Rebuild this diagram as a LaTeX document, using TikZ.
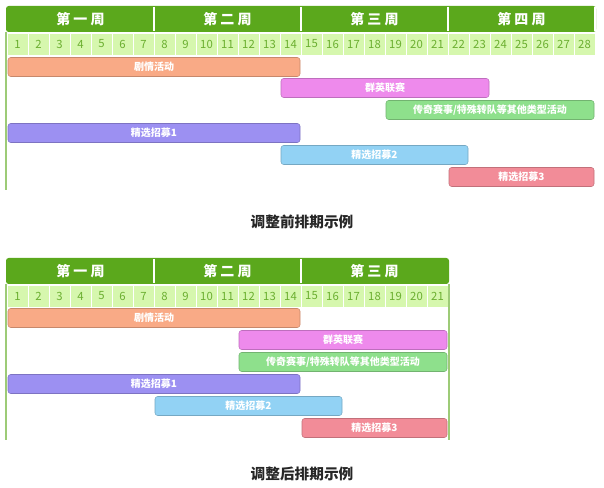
\documentclass[tikz,border=0pt]{standalone}
\usepackage{fontspec}
\setmainfont{Noto Sans CJK SC}
\usetikzlibrary{positioning}
\definecolor{headgreen}{HTML}{5BA81C}
\definecolor{daygreen}{HTML}{D6F7AE}
\definecolor{numgreen}{HTML}{6BAF30}
\definecolor{plotC}{HTML}{F9AA86}
\definecolor{plotQ}{HTML}{EE8AEC}
\definecolor{plotL}{HTML}{8EE08C}
\definecolor{plotA}{HTML}{9C90F2}
\definecolor{plotB}{HTML}{92D2F4}
\definecolor{plotR}{HTML}{F28C98}
% bar from day #3 to day #4 at row y #2
\newcommand\schedbar[6]{%
  \node[bar, fill=#5, draw=#5!80!black, minimum width={((#4-#3+1)*21-2)*0.75pt}]
    (#1) at ({7+21*(#3-1)+21*(#4-#3+1)/2}, #2) {#6};}
\begin{document}
\begin{tikzpicture}[x=0.75pt, y=-0.75pt,
  week head/.style={text=white, font=\bfseries\fontsize{10.5}{10.5}\selectfont},
  day cell/.style={fill=daygreen, draw=white, minimum width=15.75pt, minimum height=16.5pt, inner sep=0pt, text=numgreen, font=\fontsize{8.5}{8.5}\selectfont},
  bar/.style={rounded corners=2pt, minimum height=14.25pt, inner sep=0pt, text=white, font=\bfseries\fontsize{7.5}{7.5}\selectfont},
  caption/.style={font=\bfseries\fontsize{11}{11}\selectfont, text=black!85}]
  \useasboundingbox (0,0) rectangle (604,488);

  % before
  \fill[headgreen, rounded corners=2pt] (6,6) rectangle (596,32);
  \foreach \w/\name in {1/第 一 周, 2/第 二 周, 3/第 三 周, 4/第 四 周} {
    \node[week head] (wa\w) at ({7+147*(\w-0.5)}, 19) {\name};
    \draw[white, thick] ({7+147*\w}, 7) -- ({7+147*\w}, 31);
  }
  \foreach \d in {1,...,28}
    \node[day cell] (da\d) at ({7+21*(\d-0.5)}, 44) {\d};
  \draw[headgreen!60, thick] (6,32) -- (6,190);
  \schedbar{a1}{67}{1}{14}{plotC}{剧情活动}
  \schedbar{a2}{88}{14}{23}{plotQ}{群英联赛}
  \schedbar{a3}{110}{19}{28}{plotL}{传奇赛事/特殊转队等其他类型活动}
  \schedbar{a4}{133}{1}{14}{plotA}{精选招募1}
  \schedbar{a5}{155}{14}{22}{plotB}{精选招募2}
  \schedbar{a6}{177}{22}{28}{plotR}{精选招募3}
  \node[caption] (capa) at (302,222) {调整前排期示例};

  % after
  \fill[headgreen, rounded corners=2pt] (6,258) rectangle (449,284);
  \foreach \w/\name in {1/第 一 周, 2/第 二 周, 3/第 三 周} {
    \node[week head] (wb\w) at ({7+147*(\w-0.5)}, 271) {\name};
  }
  \foreach \w in {1,2}
    \draw[white, thick] ({7+147*\w}, 259) -- ({7+147*\w}, 283);
  \foreach \d in {1,...,21}
    \node[day cell] (db\d) at ({7+21*(\d-0.5)}, 296) {\d};
  \draw[headgreen!60, thick] (6,284) -- (6,440);
  \draw[headgreen!60, thick] (449,284) -- (449,440);
  \schedbar{b1}{318}{1}{14}{plotC}{剧情活动}
  \schedbar{b2}{340}{12}{21}{plotQ}{群英联赛}
  \schedbar{b3}{362}{12}{21}{plotL}{传奇赛事/特殊转队等其他类型活动}
  \schedbar{b4}{384}{1}{14}{plotA}{精选招募1}
  \schedbar{b5}{406}{8}{16}{plotB}{精选招募2}
  \schedbar{b6}{428}{15}{21}{plotR}{精选招募3}
  \node[caption] (capb) at (302,474) {调整后排期示例};
\end{tikzpicture}
\end{document}
